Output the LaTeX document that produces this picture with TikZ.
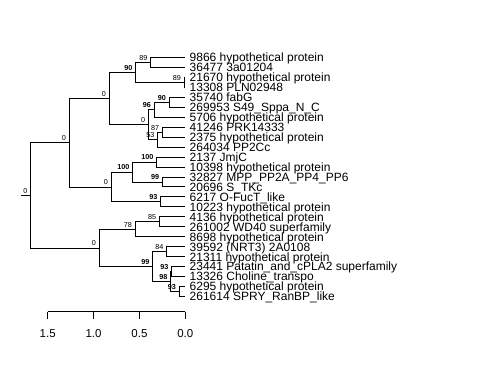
\documentclass[tikz,border=0pt]{standalone}
\usepackage{fontspec}
\setmainfont{Liberation Sans}
\usepackage{tikz}
\usetikzlibrary{positioning}

\begin{document}
\begin{tikzpicture}[x=1bp,y=-1bp,
    branch/.style={line width=1bp},
    leaf/.style={anchor=west,inner xsep=4.5bp,inner ysep=0pt,text height=8.6bp,text depth=0pt,
        font=\fontsize{12bp}{14bp}\selectfont},
    boot/.style={anchor=south east,inner sep=0pt,xshift=-3bp,yshift=2bp,text height=5.2bp,text depth=0pt,
        font=\fontsize{7.2bp}{8bp}\selectfont},
    bootb/.style={boot,font=\fontsize{7.2bp}{8bp}\selectfont\bfseries},
    scalelab/.style={inner sep=0pt,text height=8.2bp,text depth=0pt,font=\fontsize{11.5bp}{13bp}\selectfont}]
    \useasboundingbox (0,0) rectangle (480,384);
    % tips
    \foreach \lab [count=\i] in {9866 hypothetical protein, 36477 3a01204, 21670 hypothetical protein,
        13308 PLN02948, 35740 fabG, 269953 S49\_Sppa\_N\_C, 5706 hypothetical protein, 41246 PRK14333,
        2375 hypothetical protein, 264034 PP2Cc, 2137 JmjC, 10398 hypothetical protein,
        32827 MPP\_PP2A\_PP4\_PP6, 20696 S\_TKc, 6217 O-FucT\_like, 10223 hypothetical protein,
        4136 hypothetical protein, 261002 WD40 superfamily, 8698 hypothetical protein,
        39592 (NRT3) 2A0108, 21311 hypothetical protein, 23441 Patatin\_and\_cPLA2 superfamily,
        13326 Choline\_transpo, 6295 hypothetical protein, 261614 SPRY\_RanBP\_like}
        \node[leaf] (l\i) at (185,{57.5+9.96*(\i-1)}) {\lab};
    % inner nodes
    \coordinate (R0) at (20.7,195.4);
    \coordinate (R) at (30.7,195.4);
    \coordinate (U) at (69,142.8);
    \coordinate (U1) at (109,98.6);
    \coordinate (U1a) at (135.7,72.45);
    \coordinate (U1a1) at (150.7,62.5);
    \coordinate (U1a2) at (184,82.4);
    \coordinate (U1b) at (148.3,124.7);
    \coordinate (U1b1) at (154,109.8);
    \coordinate (U1b1a) at (169,102.3);
    \coordinate (U1b2) at (157.7,139.65);
    \coordinate (U1b2a) at (162.3,132.2);
    \coordinate (U2) at (111,187);
    \coordinate (U2a) at (132.7,172.05);
    \coordinate (U2a1) at (156.7,162.1);
    \coordinate (U2a2) at (162.3,182);
    \coordinate (U2b) at (160.7,201.9);
    \coordinate (L) at (99,248);
    \coordinate (L1) at (135,229.3);
    \coordinate (L1a) at (159.3,221.85);
    \coordinate (L2) at (152.7,266.65);
    \coordinate (L2a) at (166.7,251.7);
    \coordinate (L2b) at (170.7,281.6);
    \coordinate (L2b1) at (171.7,271.6);
    \coordinate (L2b2) at (179,291.55);
    % branches
    \draw[branch] (R0) -- (R);
    \foreach \p/\c in {R/U,R/L,U/U1,U/U2,U1/U1a,U1/U1b,U1a/U1a1,U1a/U1a2,U1b/U1b1,U1b/U1b2,
        U1b1/U1b1a,U1b2/U1b2a,U2/U2a,U2/U2b,U2a/U2a1,U2a/U2a2,L/L1,L/L2,L1/L1a,L2/L2a,L2/L2b,
        L2b/L2b1,L2b/L2b2}
        \draw[branch] (\p) |- (\c);
    \foreach \p/\c in {U1a1/1,U1a1/2,U1a2/3,U1a2/4,U1b1a/5,U1b1a/6,U1b1/7,U1b2a/8,U1b2a/9,U1b2/10,
        U2a1/11,U2a1/12,U2a2/13,U2a2/14,U2b/15,U2b/16,L1a/17,L1a/18,L1/19,L2a/20,L2a/21,
        L2b1/22,L2b1/23,L2b2/24,L2b2/25}
        \draw[branch] (\p) |- (l\c.west);
    % support values
    \foreach \n/\v in {R/0,U/0,U1/0,U1a1/89,U1a2/89,U1b/0,U1b2/53,U1b2a/87,U2/0,L/0,L1/78,L1a/85,L2a/84}
        \node[boot] (b\n) at (\n) {\v};
    \foreach \n/\v in {U1a/90,U1b1/96,U1b1a/90,U2a/100,U2a1/100,U2a2/99,U2b/93,L2/99,L2b/98,
        L2b1/93,L2b2/93}
        \node[bootb] (b\n) at (\n) {\v};
    % scale
    \foreach \t [count=\i] in {1.5,1.0,0.5,0.0} {
        \coordinate (t\i) at ({185.3-91.73*\t},311.7);
        \draw[branch] (t\i) -- ++(0,7.6);
        \node[scalelab] (s\i) at ({185.3-91.73*\t},333) {\t};
    }
    \draw[branch] (t1) -- (t4);
\end{tikzpicture}
\end{document}
